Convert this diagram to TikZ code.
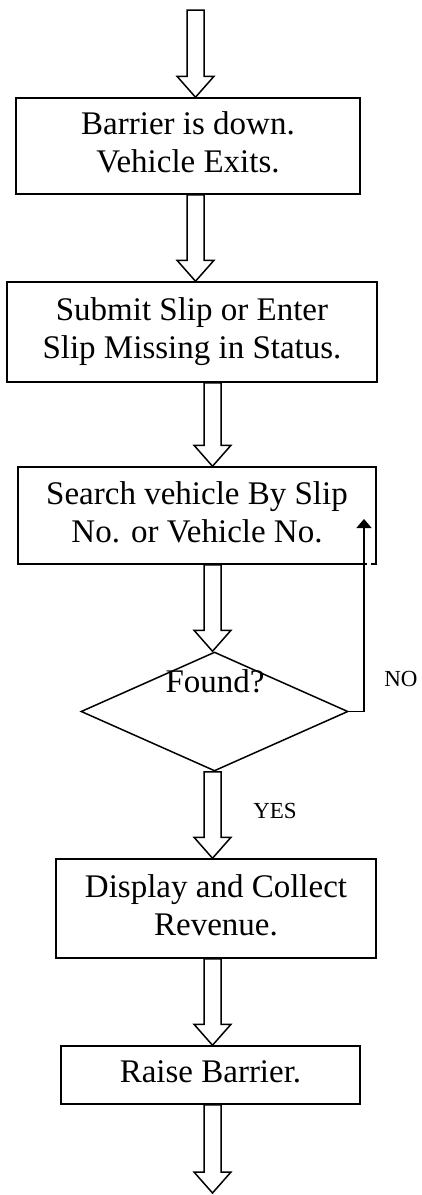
\documentclass[tikz,border=0pt]{standalone}
\usepackage{fontspec}
\setmainfont{Liberation Serif}
\usetikzlibrary{shapes.geometric,arrows.meta,calc}
\begin{document}
\begin{tikzpicture}[x=1pt,y=-1pt,
  line width=1.5pt,
  stepbox/.style={draw, rectangle, inner sep=0pt, align=center,
    font=\fontsize{33}{38}\selectfont},
  decision/.style={draw, diamond, inner sep=0pt},
  qtext/.style={font=\fontsize{33}{38}\selectfont, inner sep=0pt, anchor=base},
  tag/.style={font=\fontsize{23}{27}\selectfont, inner sep=0pt},
  % hollow block arrow running from the start point down to the target point
  blockarrow/.style={draw, fill=white, line join=miter,
    to path={let \p1=(\tikztostart), \p2=(\tikztotarget) in
      (\x1-8.5pt,\y1) -- (\x1+8.5pt,\y1) -- (\x1+8.5pt,\y2+21pt)
      -- (\x1+18.5pt,\y2+21pt) -- (\x2,\y2) -- (\x1-18.5pt,\y2+21pt)
      -- (\x1-8.5pt,\y2+21pt) -- cycle}},
  returnline/.style={-{Triangle[width=15pt,length=9pt]}}
]
\useasboundingbox (0,0) rectangle (421,1195);

% process boxes
\node[stepbox, minimum width=344pt, minimum height=96pt] (b1) at (188,146)
  {\strut Barrier is down.\\ \strut Vehicle Exits.};
\node[stepbox, minimum width=370pt, minimum height=100pt] (b2) at (192,332)
  {\strut Submit Slip or Enter\\ \strut Slip Missing in Status.};
\node[stepbox, minimum width=358pt, minimum height=97pt] (b3) at (197,515.5)
  {\strut Search vehicle By Slip\\ \strut No. or Vehicle No.};
\node[decision, minimum width=267pt, minimum height=119pt] (dia) at (214.5,711.5) {};
\node[qtext] (q) at (215,692) {Found?};
\node[stepbox, minimum width=320pt, minimum height=99pt] (b4) at (216,908.5)
  {\strut Display and Collect\\ \strut Revenue.};
\node[stepbox, minimum width=299pt, minimum height=58pt] (b5) at (210.5,1075)
  {\strut Raise Barrier.};

% arrow axes, entry and exit points
\coordinate (axa) at (195.5,0);
\coordinate (axb) at (212.5,0);
\coordinate (entry) at (195.5,10);
\coordinate (exit) at (212.5,1193);
\coordinate (ret) at (364,519);

% flow arrows
\draw[blockarrow] (entry) to (axa |- b1.north);
\draw[blockarrow] (axa |- b1.south) to (axa |- b2.north);
\draw[blockarrow] (axb |- b2.south) to (axb |- b3.north);
\draw[blockarrow] (axb |- b3.south) to (axb |- dia.north);
\draw[blockarrow] (axb |- dia.south) to (axb |- b4.north);
\draw[blockarrow] (axb |- b4.south) to (axb |- b5.north);
\draw[blockarrow] (axb |- b5.south) to (exit);

% NO branch back into the search box
\draw[white, line width=2.5pt] (366.5,564) -- (371,564);
\draw[returnline] (dia.east) -| (ret);

% branch labels
\node[tag] (yes) at (275,811) {YES};
\node[tag] (no) at (401,678.5) {NO};
\end{tikzpicture}
\end{document}
